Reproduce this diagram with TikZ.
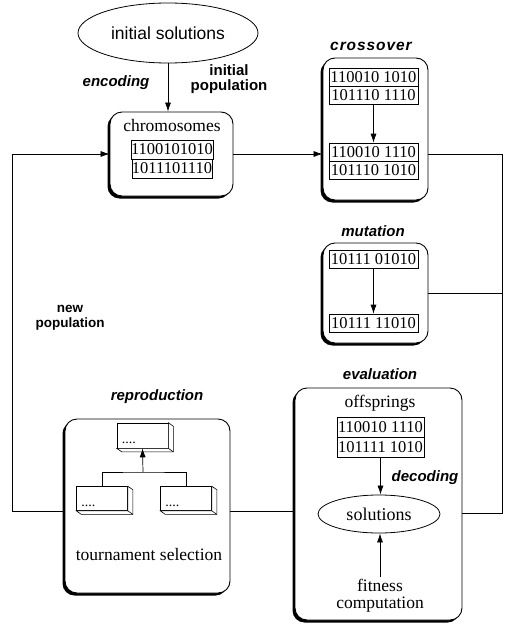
\documentclass[tikz,border=0pt]{standalone}
\usepackage{fontspec}
\setmainfont{Liberation Serif}
\setsansfont{Liberation Sans}
\usetikzlibrary{arrows.meta,shadows,shapes.geometric,calc}
\tikzset{
  stage/.style={draw, line width=0.9pt, rounded corners=12pt, fill=white, inner sep=0pt,
    drop shadow={shadow xshift=-2.5pt, shadow yshift=-2.5pt, fill=black, opacity=1}},
  row/.style={draw, line width=0.6pt, fill=white, inner sep=0pt, minimum height=18pt,
    font=\fontsize{16.5}{18}\selectfont},
  lab/.style={font=\sffamily\bfseries\itshape\fontsize{15}{17}\selectfont},
  plain/.style={font=\fontsize{17.5}{17}\selectfont, inner sep=0pt, align=center},
  bsans/.style={font=\sffamily\bfseries\fontsize{15}{15}\selectfont, align=center, inner sep=0pt},
  oval/.style={draw, ellipse, line width=0.8pt, inner sep=0pt},
  cube/.style={draw, line width=0.6pt, fill=white, minimum width=51pt, minimum height=25pt, inner sep=0pt},
  dots/.style={font=\fontsize{14}{14}\selectfont, inner sep=0pt, anchor=south west},
  con/.style={line width=0.7pt},
  arr/.style={line width=0.7pt, -{Latex[length=9pt,width=6pt]}}
}
\begin{document}
\begin{tikzpicture}[x=1pt,y=-1pt]
\useasboundingbox (0,0) rectangle (504,629);

% initial solutions
\node[oval, minimum width=180pt, minimum height=60pt, font=\sffamily\fontsize{17.5}{18}\selectfont] (init) at (168,33) {initial solutions};
\node[lab] (enc) at (116,83) {encoding};
\node[bsans] (ipop) at (229,79) {initial\\population};

% chromosomes
\node[stage, minimum width=123pt, minimum height=84pt] (chrom) at (171.5,154) {};
\node[plain] (chromt) at (172,126) {chromosomes};
\node[row, minimum width=80pt, minimum height=19pt] (ch1) at (172,149.5) {1100101010};
\node[row, minimum width=80pt, minimum height=19pt] (ch2) at (172,168.5) {1011101110};

% crossover
\node[lab, font=\sffamily\bfseries\itshape\fontsize{15.5}{17}\selectfont\addfontfeature{LetterSpace=6}] (crossl) at (371,46) {crossover};
\node[stage, minimum width=105pt, minimum height=142pt] (cross) at (375.5,129) {};
\node[row, minimum width=89pt] (cr1) at (373.5,77) {110010 1010};
\node[row, minimum width=89pt] (cr2) at (373.5,95) {101110 1110};
\node[row, minimum width=89pt] (cr3) at (373.5,152) {110010 1110};
\node[row, minimum width=89pt] (cr4) at (373.5,170) {101110 1010};
\draw[arr] (cr2.south) -- (cr3.north);

% mutation
\node[lab] (mutl) at (373,231) {mutation};
\node[stage, minimum width=105pt, minimum height=100pt] (mut) at (375.5,293) {};
\node[row, minimum width=89pt] (m1) at (373.5,259) {10111 01010};
\node[row, minimum width=89pt] (m2) at (373.5,323) {10111 11010};
\draw[arr] (m1.south) -- (m2.north);

% new population
\node[bsans, font=\sffamily\bfseries\fontsize{13.5}{15}\selectfont] (npop) at (70,318) {new\\population};

% reproduction
\node[lab] (repl) at (157,397) {reproduction};
\node[stage, minimum width=165pt, minimum height=174pt] (repro) at (147.5,506) {};
\node[cube] (ctop) at (142.5,435.5) {};
\node[cube, minimum height=24pt] (cl) at (102,498.5) {};
\node[cube, minimum height=24pt] (cr) at (186,498.5) {};
\foreach \c in {ctop,cl,cr}{
  \draw[line width=0.6pt, fill=white] (\c.north east) -- ++(5,3.5) -- ($(\c.south east)+(5,3.5)$) -- ($(\c.south west)+(5,3.5)$) -- (\c.south west) -- (\c.south east) -- cycle;
  \draw[line width=0.6pt] (\c.south east) -- ++(5,3.5);
  \node[dots] at ($(\c.south west)+(5,-4)$) {....};
}
\coordinate (tj) at (143,472);
\draw[con] (cl.north) |- (tj) -| (cr.north);
\draw[arr] (tj) -- (ctop.south);
\node[plain] (tour) at (149,555) {tournament selection};

% evaluation
\node[lab] (evall) at (380,374) {evaluation};
\node[stage, minimum width=167pt, minimum height=232pt] (eval) at (378.5,504) {};
\node[plain] (offs) at (380,403) {offsprings};
\node[row, minimum width=87pt, minimum height=20pt] (o1) at (380.5,427) {110010 1110};
\node[row, minimum width=87pt, minimum height=20pt] (o2) at (380.5,447) {101111 1010};
\node[oval, minimum width=122pt, minimum height=38pt, font=\fontsize{18}{18}\selectfont] (sol) at (379,514) {solutions};
\node[lab] (dec) at (425,478) {decoding};
\node[plain, inner sep=2pt] (fit) at (380,596) {fitness\\computation};
\draw[arr] (o2.south) -- (o2.south |- sol.north);
\draw[arr] (fit.north) -- (fit.north |- sol.south);

% connectors
\draw[arr] (init.south) -- (init.south |- chrom.north);
\coordinate (lt) at (12,154);
\coordinate (lb) at (12,511);
\coordinate (rt) at (502,154);
\coordinate (rb) at (502,513);
\draw[arr] (lb -| repro.west) -- (lb) -- (lt) -- (chrom.west);
\draw[arr] (chrom.east) -- (chrom.east -| cross.west);
\draw[con] (rt -| cross.east) -- (rt) -- (rb) -- (rb -| eval.east);
\draw[con] (mut.east) -- (mut.east -| rt);
\draw[con] (lb -| repro.east) -- (lb -| eval.west);
\end{tikzpicture}
\end{document}
